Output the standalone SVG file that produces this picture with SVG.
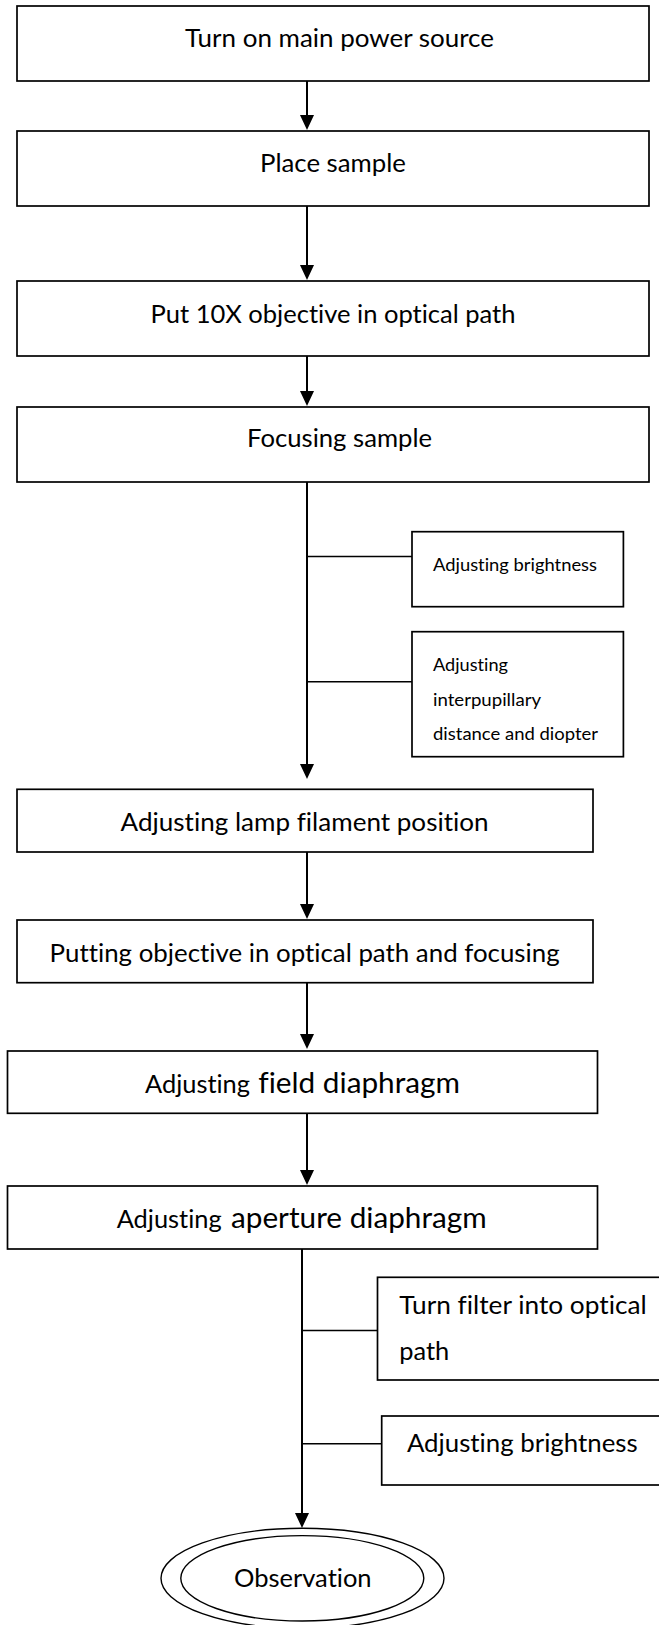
<svg xmlns="http://www.w3.org/2000/svg" width="659" height="1625" viewBox="0 0 659 1625">
<defs>
<style>
.box{fill:#fff;stroke:#000;stroke-width:1.7}
.ell{fill:#fff;stroke:#000;stroke-width:1.4}
.ln{fill:none;stroke:#000;stroke-width:2}
.br{fill:none;stroke:#000;stroke-width:1.5}
.t{font-family:Lato,"Open Sans","Liberation Sans",sans-serif;font-size:25px;fill:#000;font-variant-ligatures:none;font-feature-settings:"liga" 0,"dlig" 0,"clig" 0}
.s{font-family:Lato,"Open Sans","Liberation Sans",sans-serif;font-size:17.7px;fill:#000;font-variant-ligatures:none;font-feature-settings:"liga" 0,"dlig" 0,"clig" 0}
.l{font-size:28.4px}
</style>
<marker id="arr" markerUnits="userSpaceOnUse" markerWidth="15" markerHeight="14" refX="7" refY="7" orient="auto">
<path d="M0,0 L15,7 L0,14 z" fill="#000"/>
</marker>
</defs>
<rect width="659" height="1625" fill="#fff"/>

<g id="connectors">
<line class="ln" x1="307" y1="81" x2="307" y2="122" marker-end="url(#arr)"/>
<line class="ln" x1="307" y1="206" x2="307" y2="272" marker-end="url(#arr)"/>
<line class="ln" x1="307" y1="356" x2="307" y2="398" marker-end="url(#arr)"/>
<line class="ln" x1="307" y1="482" x2="307" y2="771" marker-end="url(#arr)"/>
<line class="br" x1="307" y1="556.5" x2="412" y2="556.5"/>
<line class="br" x1="307" y1="681.7" x2="412" y2="681.7"/>
<line class="ln" x1="307" y1="852" x2="307" y2="911" marker-end="url(#arr)"/>
<line class="ln" x1="307" y1="983" x2="307" y2="1041" marker-end="url(#arr)"/>
<line class="ln" x1="307" y1="1113" x2="307" y2="1177" marker-end="url(#arr)"/>
<line class="ln" x1="302" y1="1249" x2="302" y2="1520" marker-end="url(#arr)"/>
<line class="br" x1="302" y1="1330.5" x2="377.5" y2="1330.5"/>
<line class="br" x1="302" y1="1443.7" x2="381.7" y2="1443.7"/>
</g>

<g id="n1">
<rect class="box" x="17" y="6" width="632" height="75"/>
<text class="t" x="185" y="47" textLength="309" lengthAdjust="spacingAndGlyphs">Turn on main power source</text>
</g>
<g id="n2">
<rect class="box" x="17" y="131" width="632" height="75"/>
<text class="t" x="260" y="172" textLength="146" lengthAdjust="spacingAndGlyphs">Place sample</text>
</g>
<g id="n3">
<rect class="box" x="17" y="281" width="632" height="75"/>
<text class="t" x="150.5" y="323.3" textLength="365" lengthAdjust="spacingAndGlyphs">Put 10X objective in optical path</text>
</g>
<g id="n4">
<rect class="box" x="17" y="407" width="632" height="75"/>
<text class="t" x="247" y="446.7" textLength="185" lengthAdjust="spacingAndGlyphs">Focusing sample</text>
</g>
<g id="n5">
<rect class="box" x="412" y="531.7" width="211.4" height="75"/>
<text class="s" x="433" y="570.5" textLength="164" lengthAdjust="spacingAndGlyphs">Adjusting brightness</text>
</g>
<g id="n6">
<rect class="box" x="412" y="631.7" width="211.4" height="125"/>
<text class="s" x="433" y="670.7" textLength="75" lengthAdjust="spacingAndGlyphs">Adjusting</text>
<text class="s" x="433" y="705.5" textLength="108" lengthAdjust="spacingAndGlyphs">interpupillary</text>
<text class="s" x="433" y="740" textLength="165" lengthAdjust="spacingAndGlyphs">distance and diopter</text>
</g>
<g id="n7">
<rect class="box" x="17" y="789.3" width="576" height="62.7"/>
<text class="t" x="120.6" y="831" textLength="368" lengthAdjust="spacingAndGlyphs">Adjusting lamp filament position</text>
</g>
<g id="n8">
<rect class="box" x="17" y="920" width="576" height="62.7"/>
<text class="t" x="49.6" y="961.7" textLength="510" lengthAdjust="spacingAndGlyphs">Putting objective in optical path and focusing</text>
</g>
<g id="n9">
<rect class="box" x="7.5" y="1051" width="590" height="62.3"/>
<text class="t" y="1093.3"><tspan x="145" textLength="105" lengthAdjust="spacingAndGlyphs">Adjusting</tspan><tspan class="l" x="258.3" textLength="201.7" lengthAdjust="spacingAndGlyphs">field diaphragm</tspan></text>
</g>
<g id="n10">
<rect class="box" x="7.5" y="1186" width="590" height="63"/>
<text class="t" y="1228.3"><tspan x="116.7" textLength="105" lengthAdjust="spacingAndGlyphs">Adjusting</tspan><tspan class="l" x="231" textLength="255.7" lengthAdjust="spacingAndGlyphs">aperture diaphragm</tspan></text>
</g>
<g id="n11">
<rect class="box" x="377.5" y="1277.3" width="300" height="102.7"/>
<text class="t" x="399.3" y="1314" textLength="247.4" lengthAdjust="spacingAndGlyphs">Turn filter into optical</text>
<text class="t" x="399.3" y="1360" textLength="50" lengthAdjust="spacingAndGlyphs">path</text>
</g>
<g id="n12">
<rect class="box" x="381.7" y="1416" width="300" height="69"/>
<text class="t" x="406.9" y="1451.7" textLength="230.8" lengthAdjust="spacingAndGlyphs">Adjusting brightness</text>
</g>
<g id="n13">
<ellipse class="ell" cx="302.5" cy="1578.3" rx="141.5" ry="50"/>
<ellipse class="ell" cx="302.3" cy="1578.3" rx="121.5" ry="42.7"/>
<text class="t" x="234" y="1586.7" textLength="137.6" lengthAdjust="spacingAndGlyphs">Observation</text>
</g>
</svg>
